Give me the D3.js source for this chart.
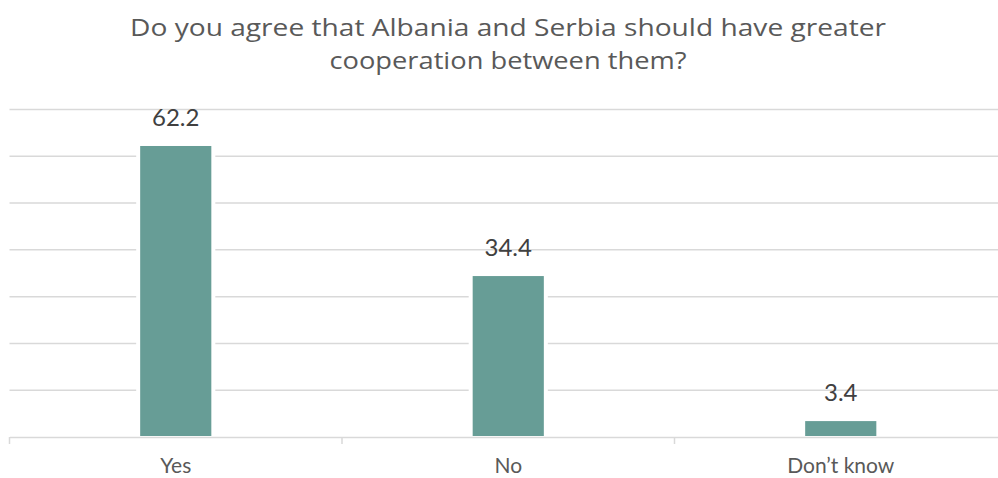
<!DOCTYPE html>
<html>
<head>
<meta charset="utf-8">
<script src="https://cdn.jsdelivr.net/npm/d3@7"></script>
<style>
  html, body { margin: 0; padding: 0; background: #fff; }
  svg { display: block; font-family: "Lato", "Noto Sans", sans-serif; }
</style>
</head>
<body>
<svg id="chart" width="998" height="478"></svg>
<script>
// Survey responses (percent)
const categories = ["Yes", "No", "Don\u2019t know"];
const values = [62.2, 34.4, 3.4];
const gridTicks = [0, 10, 20, 30, 40, 50, 60, 70];
const titleLines = [
  "Do you agree that Albania and Serbia should have greater",
  "cooperation between them?"
];
const titleWidths = [756, 357];

const svg = d3.select("#chart");
const plot = { left: 9.5, right: 1007, top: 109.5, bottom: 437 };

const x = d3.scaleBand()
  .domain(categories)
  .range([plot.left, plot.right])
  .paddingInner(0)
  .paddingOuter(0);

const y = d3.scaleLinear()
  .domain([0, 70])
  .range([plot.bottom, plot.top]);

const barWidth = x.bandwidth() * 0.214;
const barColor = "#679d96";

// Title, set in a wide face to echo the geometric original
svg.append("g")
  .selectAll("text")
  .data(titleLines)
  .join("text")
  .attr("x", 508)
  .attr("y", (d, i) => 36 + i * 33)
  .attr("text-anchor", "middle")
  .attr("font-size", 23)
  .attr("font-family", "'Open Sans', 'Noto Sans', sans-serif")
  .attr("fill", "#595959")
  .attr("textLength", (d, i) => titleWidths[i])
  .attr("lengthAdjust", "spacingAndGlyphs")
  .text(d => d);

// Horizontal gridlines
svg.append("g")
  .selectAll("line")
  .data(gridTicks.filter(t => t > 0))
  .join("line")
  .attr("x1", plot.left)
  .attr("x2", plot.right)
  .attr("y1", d => y(d))
  .attr("y2", d => y(d))
  .attr("stroke", "#d9d9d9")
  .attr("stroke-width", 1.5);

// White halo behind each bar breaks the gridlines
svg.append("g")
  .selectAll("rect")
  .data(values)
  .join("rect")
  .attr("x", (d, i) => x(categories[i]) + x.bandwidth() / 2 - barWidth / 2 - 4)
  .attr("width", barWidth + 8)
  .attr("y", d => y(d) - 2)
  .attr("height", d => y(0) - y(d) + 1)
  .attr("fill", "#fff");

// Bars
svg.append("g")
  .selectAll("rect")
  .data(values)
  .join("rect")
  .attr("x", (d, i) => x(categories[i]) + x.bandwidth() / 2 - barWidth / 2)
  .attr("width", barWidth)
  .attr("y", d => y(d))
  .attr("height", d => y(0) - y(d) - 1)
  .attr("fill", barColor);

// Category axis
const xAxis = d3.axisBottom(x).tickSize(0).tickSizeOuter(0);
const axisG = svg.append("g")
  .attr("transform", `translate(0,${plot.bottom})`)
  .call(xAxis);
axisG.select(".domain").attr("stroke", "#d9d9d9").attr("stroke-width", 1.5);
axisG.selectAll(".tick text")
  .attr("font-size", 21)
  .attr("fill", "#595959")
  .attr("font-family", "Lato, 'Noto Sans', sans-serif")
  .attr("dy", 0)
  .attr("y", 36);

// Tick marks at category boundaries
const boundaries = categories.map(c => x(c));
svg.append("g")
  .selectAll("line")
  .data(boundaries)
  .join("line")
  .attr("x1", d => d)
  .attr("x2", d => d)
  .attr("y1", plot.bottom)
  .attr("y2", plot.bottom + 7)
  .attr("stroke", "#d9d9d9")
  .attr("stroke-width", 1.5);

// Value labels
svg.append("g")
  .selectAll("text")
  .data(values)
  .join("text")
  .attr("x", (d, i) => x(categories[i]) + x.bandwidth() / 2)
  .attr("y", d => y(d) - 20)
  .attr("text-anchor", "middle")
  .attr("font-size", 24)
  .attr("fill", "#404040")
  .text(d => d.toFixed(1));
</script>
</body>
</html>
